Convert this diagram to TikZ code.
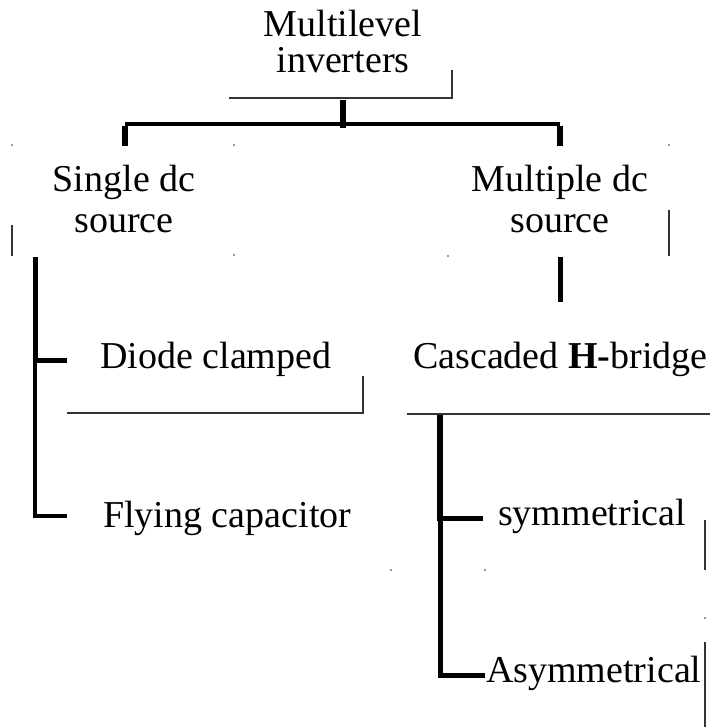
\documentclass[tikz,border=0pt]{standalone}
\usepackage{fontspec}
\setmainfont{Liberation Serif}
\begin{document}
\begin{tikzpicture}[x=1pt,y=-1pt,
  lbl/.style={inner sep=0pt, font=\fontsize{38}{40}\selectfont, align=center},
  heavy/.style={line width=6pt},
  medium/.style={line width=3.5pt, line join=miter},
  hair/.style={line width=1.2pt, draw=black!80},
  speck/.style={fill=black!80}]
\useasboundingbox (0,0) rectangle (710,727);
% text (base anchor of a two-line node = baseline of its last line)
\node[lbl, anchor=base] (title) at (343,73) {Multilevel\\[-4pt]inverters};
\node[lbl, anchor=base] (single) at (124,232) {Single dc\\source};
\node[lbl, anchor=base] (multiple) at (560,232) {Multiple dc\\source};
\node[lbl, anchor=base west] (diode) at (100,368) {Diode clamped};
\node[lbl, anchor=base west] (flying) at (103,527) {Flying capacitor};
\node[lbl, anchor=base west] (cascaded) at (413,368) {Cascaded \textbf{H-}bridge};
\node[lbl, anchor=base west] (sym) at (498,525) {symmetrical};
\node[lbl, anchor=base west] (asym) at (486,682) {Asymmetrical};
% junction coordinates
\coordinate (tA) at (343,100);
\coordinate (tB) at (343,128);
\coordinate (hL) at (125,124);
\coordinate (hR) at (560,124);
\coordinate (sL) at (125,146);
\coordinate (sR) at (560,146);
\coordinate (lTop) at (35,257);
\coordinate (lMid) at (35,360);
\coordinate (lBot) at (35,516);
\coordinate (dEnd) at (67,360);
\coordinate (fEnd) at (67,516);
\coordinate (mA) at (560,257);
\coordinate (mB) at (560,302);
\coordinate (rTop) at (440,414);
\coordinate (rMid) at (440,518);
\coordinate (rBot) at (440,675);
\coordinate (sEnd) at (483,518);
\coordinate (aEnd) at (485,675);
% thick connectors
\draw[heavy] (tA) -- (tB);
\draw[medium] (hL) -- (hR);
\draw[heavy] ([yshift=-2pt]hL) -- (sL);
\draw[heavy] ([yshift=-2pt]hR) -- (sR);
\draw[heavy, line width=5pt] (lTop) -- (lMid);
\draw[medium] (lMid) -- (lBot) -- (fEnd);
\draw[heavy, line width=5pt] ([xshift=-2.5pt]lMid) -- (dEnd);
\draw[heavy, line width=5pt] (mA) -- (mB);
\draw[heavy] (rTop) -- (rMid);
\draw[medium, line width=5pt] (rMid) -- (rBot) -- (aEnd);
\draw[heavy, line width=5pt] ([xshift=-3pt]rMid) -- (sEnd);
% thin lines
\draw[hair] (229,98) -- (452,98) -- (452,70);
\draw[hair] (12,225) -- (12,256);
\draw[hair] (669,210) -- (669,256);
\draw[hair] (67,413) -- (363,413) -- (363,376);
\draw[hair] (407,414) -- (710,414);
\draw[hair] (705,520) -- (705,570);
\draw[hair] (705,642) -- (705,727);
% specks
\foreach \p in {(12,145),(234,145),(234,255),(669,145),(448,256),(391,570),(485,570),(705,618)}
  \fill[speck] \p circle (0.9pt);
\end{tikzpicture}
\end{document}
